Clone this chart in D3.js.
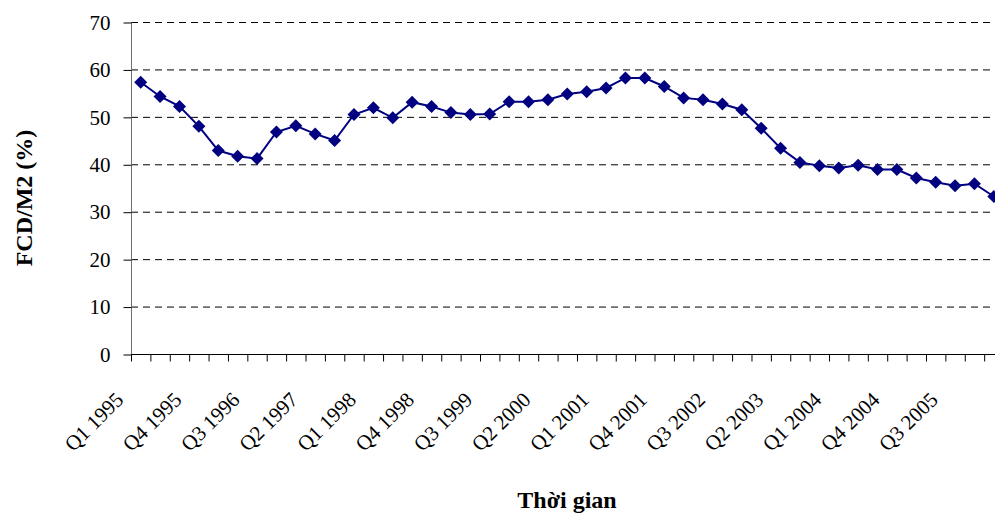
<!DOCTYPE html>
<html>
<head>
<meta charset="utf-8">
<script src="https://cdn.jsdelivr.net/npm/d3@7"></script>
<style>
  body { margin: 0; background: #fff; }
  svg { display: block; font-family: "Times New Roman", "Liberation Serif", serif; }
  .grid line { stroke: #000; stroke-dasharray: 7 5; }
</style>
</head>
<body>
<svg class="chart"></svg>
<script>
var quarters = [
  "Q1 1995", "Q2 1995", "Q3 1995", "Q4 1995",
  "Q1 1996", "Q2 1996", "Q3 1996", "Q4 1996",
  "Q1 1997", "Q2 1997", "Q3 1997", "Q4 1997",
  "Q1 1998", "Q2 1998", "Q3 1998", "Q4 1998",
  "Q1 1999", "Q2 1999", "Q3 1999", "Q4 1999",
  "Q1 2000", "Q2 2000", "Q3 2000", "Q4 2000",
  "Q1 2001", "Q2 2001", "Q3 2001", "Q4 2001",
  "Q1 2002", "Q2 2002", "Q3 2002", "Q4 2002",
  "Q1 2003", "Q2 2003", "Q3 2003", "Q4 2003",
  "Q1 2004", "Q2 2004", "Q3 2004", "Q4 2004",
  "Q1 2005", "Q2 2005", "Q3 2005", "Q4 2005",
  "Q1 2006"
];

var fcdM2 = [
  57.3, 54.3, 52.2, 48.0, 42.9, 41.7, 41.2, 46.8, 48.1, 46.4,
  45.0, 50.5, 51.9, 49.8, 53.1, 52.2, 50.9, 50.5, 50.6, 53.2,
  53.2, 53.6, 54.8, 55.3, 56.1, 58.2, 58.2, 56.4, 54.0, 53.6,
  52.7, 51.5, 47.6, 43.4, 40.4, 39.7, 39.2, 39.8, 38.9, 38.9,
  37.1, 36.2, 35.5, 35.9, 33.2
];

var yTicks = [0, 10, 20, 30, 40, 50, 60, 70];

var width = 995, height = 514;
var plotLeft = 131, plotTop = 22, plotBottom = 354, step = 19.39;

var svg = d3.select(".chart")
    .attr("width", width)
    .attr("height", height);

var x = d3.scaleBand()
    .domain(quarters)
    .range([plotLeft, plotLeft + quarters.length * step]);

var y = d3.scaleLinear()
    .domain([0, 70])
    .range([plotBottom, plotTop]);

// dashed grid
svg.append("g")
    .attr("class", "grid")
    .selectAll("line")
    .data(yTicks.filter(function(d) { return d > 0; }))
  .enter().append("line")
    .attr("x1", plotLeft)
    .attr("x2", width)
    .attr("y1", function(d) { return y(d) + 0.5; })
    .attr("y2", function(d) { return y(d) + 0.5; });

// y axis
var yAxis = svg.append("g")
    .attr("transform", "translate(" + (plotLeft + 0.5) + ",0.5)")
    .call(d3.axisLeft(y).tickValues(yTicks).tickSize(8).tickPadding(13));
yAxis.select(".domain").attr("stroke", "#6e6e6e").attr("d", "M0," + plotTop + "V" + plotBottom);
yAxis.selectAll(".tick line").attr("stroke", "#000");
yAxis.selectAll("text").attr("font-size", 21).attr("font-family", "Times New Roman, Liberation Serif, serif").attr("fill", "#000");

// x axis: ticks on category boundaries
var xb = d3.scaleLinear()
    .domain([0, quarters.length])
    .range([plotLeft, plotLeft + quarters.length * step]);
var xAxis = svg.append("g")
    .attr("transform", "translate(0," + (plotBottom + 0.5) + ")")
    .call(d3.axisBottom(xb).tickValues(d3.range(0, quarters.length + 1)).tickSize(7).tickFormat(""));
xAxis.select(".domain").attr("d", "M" + plotLeft + ",0H" + width).attr("stroke", "#000");
xAxis.selectAll(".tick line").attr("stroke", "#000");

// x labels, every third quarter
svg.append("g")
    .selectAll("text")
    .data(quarters.filter(function(d, i) { return i % 3 === 0; }))
  .enter().append("text")
    .attr("text-anchor", "end")
    .attr("font-size", 21)
    .attr("transform", function(d) {
        return "translate(" + (x(d) + x.bandwidth() / 2 - 16) + "," + (plotBottom + 47) + ") rotate(-45)";
    })
    .text(function(d) { return d; });

// series
var cx = function(d, i) { return x(quarters[i]) + x.bandwidth() / 2; };

svg.append("path")
    .datum(fcdM2)
    .attr("fill", "none")
    .attr("stroke", "#000080")
    .attr("stroke-width", 2)
    .attr("d", d3.line().x(cx).y(function(d) { return y(d); }));

svg.selectAll(".marker")
    .data(fcdM2)
  .enter().append("path")
    .attr("class", "marker")
    .attr("fill", "#000080")
    .attr("d", "M0,-6.5L6.5,0L0,6.5L-6.5,0Z")
    .attr("transform", function(d, i) { return "translate(" + cx(d, i) + "," + y(d) + ")"; });

// axis titles
svg.append("text")
    .attr("text-anchor", "middle")
    .attr("font-weight", "bold")
    .attr("font-size", 24)
    .attr("transform", "translate(32,198) rotate(-90)")
    .text("FCD/M2 (%)");

svg.append("text")
    .attr("text-anchor", "middle")
    .attr("font-weight", "bold")
    .attr("font-size", 24)
    .attr("x", 567)
    .attr("y", 508)
    .text("Thời gian");
</script>
</body>
</html>
